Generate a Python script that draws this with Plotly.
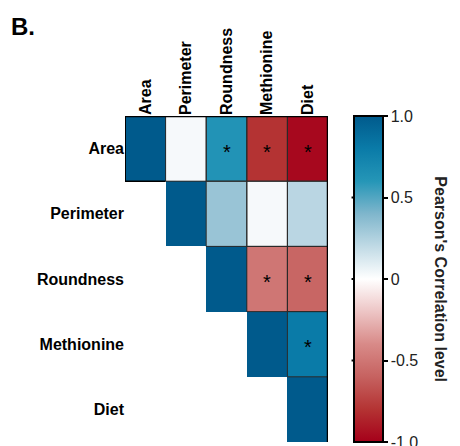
import plotly.graph_objects as go

variables = ["Area", "Perimeter", "Roundness", "Methionine", "Diet"]
# upper-triangle Pearson correlations (None = not shown)
corr = [
    [1.0, 0.03, 0.62, -0.80, -0.97],
    [None, 1.0, 0.32, 0.03, 0.22],
    [None, None, 1.0, -0.50, -0.58],
    [None, None, None, 1.0, 0.80],
    [None, None, None, None, 1.0],
]
significant = [
    [False, False, True, True, True],
    [False, False, False, False, False],
    [False, False, False, True, True],
    [False, False, False, False, True],
    [False, False, False, False, False],
]
cbar_ticks = [1.0, 0.5, 0, -0.5, -1.0]
cbar_ticktext = ["1.0", "0.5", "0", "-0.5", "-1.0"]

colorscale = [
    [0.0, "#A5001A"],
    [0.1, "#B43333"],
    [0.2, "#C66260"],
    [0.3, "#D88A88"],
    [0.4, "#EDC5C5"],
    [0.5, "#FFFFFF"],
    [0.6, "#C0DAE5"],
    [0.7, "#7FB6CC"],
    [0.8, "#2596B7"],
    [0.9, "#0A7BA8"],
    [1.0, "#005A8C"],
]

n = len(variables)
FONT = "Liberation Sans, Arial, sans-serif"
CB_X = 1.128

fig = go.Figure()
fig.add_trace(go.Heatmap(
    z=corr,
    x=list(range(n)),
    y=list(range(n)),
    zmin=-1, zmax=1,
    colorscale=colorscale,
    hoverinfo="skip",
    colorbar=dict(
        x=CB_X, xanchor="left", xpad=0, ypad=0,
        y=0.5, yanchor="middle", len=1.0, lenmode="fraction",
        thickness=29,
        outlinecolor="black", outlinewidth=2,
        tickvals=[max(min(t, 0.9999), -0.9999) for t in cbar_ticks],
        ticktext=cbar_ticktext, ticklabeloverflow="allow",
        ticks="outside", ticklen=4, tickcolor="black", tickwidth=2,
        tickfont=dict(family=FONT, size=16, color="#222"),
    ),
))

shapes = []
# borders around off-diagonal cells
for i in range(n):
    for j in range(i + 1, n):
        shapes.append(dict(type="rect", xref="x", yref="y",
                           x0=j - 0.5, x1=j + 0.5, y0=i - 0.5, y1=i + 0.5,
                           line=dict(color="#2a2a2a", width=1)))
# outer frame: top and right
shapes.append(dict(type="line", xref="x", yref="y", x0=-0.5, x1=n - 0.5,
                   y0=-0.5, y1=-0.5, line=dict(color="black", width=2.5)))
shapes.append(dict(type="line", xref="x", yref="y", x0=n - 0.5, x1=n - 0.5,
                   y0=-0.5, y1=n - 0.5, line=dict(color="black", width=2.5)))
# first diagonal cell left/bottom edges
shapes.append(dict(type="line", xref="x", yref="y", x0=-0.5, x1=-0.5,
                   y0=-0.5, y1=0.5, line=dict(color="black", width=2)))
shapes.append(dict(type="line", xref="x", yref="y", x0=-0.5, x1=0.5,
                   y0=0.5, y1=0.5, line=dict(color="black", width=1.5)))
# small tick marks on the left edge of the colour bar
for t in cbar_ticks[1:-1]:
    shapes.append(dict(type="line", xref="paper", yref="paper",
                       x0=CB_X - 0.012, x1=CB_X + 0.012,
                       y0=(t + 1) / 2, y1=(t + 1) / 2,
                       line=dict(color="black", width=2)))

annotations = []
for i in range(n):
    for j in range(n):
        if significant[i][j]:
            annotations.append(dict(x=j, y=i, xref="x", yref="y", text="*",
                                    showarrow=False, yshift=-3,
                                    font=dict(family=FONT, size=20, color="black")))
annotations.append(dict(text="<b>Pearson's Correlation level</b>", textangle=90,
                        xref="paper", yref="paper", x=1.555, y=0.5,
                        xanchor="center", yanchor="middle", showarrow=False,
                        font=dict(family=FONT, size=16, color="#222")))
annotations.append(dict(text="<b>B.</b>", xref="paper", yref="paper",
                        x=-0.57, y=1.276, xanchor="left", yanchor="middle",
                        showarrow=False,
                        font=dict(family=FONT, size=24, color="black")))

# the page body adds an 8px margin, so the figure is 8px smaller
fig.update_layout(
    width=452, height=438,
    margin=dict(l=117, r=132, t=108, b=4, autoexpand=False),
    plot_bgcolor="white", paper_bgcolor="white",
    shapes=shapes, annotations=annotations,
    xaxis=dict(side="top", tickvals=list(range(n)),
               ticktext=[f"<b>{v}</b>" for v in variables],
               tickangle=-90, range=[-0.5, n - 0.5], automargin=False,
               showgrid=False, zeroline=False, showline=False, ticks="",
               tickfont=dict(family=FONT, size=16, color="black")),
    yaxis=dict(tickvals=list(range(n)),
               ticktext=[f"<b>{v}</b>" for v in variables],
               range=[n - 0.5, -0.5], automargin=False,
               showgrid=False, zeroline=False, showline=False, ticks="",
               tickfont=dict(family=FONT, size=16, color="black")),
)

fig.write_html("out.html")
